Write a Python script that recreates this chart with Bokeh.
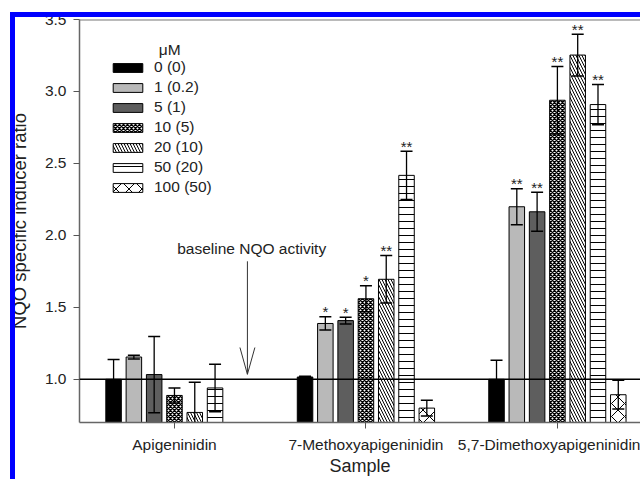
import numpy as np
from bokeh.plotting import figure
from bokeh.layouts import row
from bokeh.models import (ColumnDataSource, FixedTicker, Span, Arrow, Label,
                          Legend, LegendItem, NumeralTickFormatter, Range1d, Div)
from bokeh.core.properties import value
from bokeh.embed import file_html
from bokeh.resources import INLINE

# ---------------- data ----------------
categories = ["Apigeninidin", "7-Methoxyapigeninidin", "5,7-Dimethoxyapigeninidin"]
series_labels = ["0 (0)", "1 (0.2)", "5 (1)", "10 (5)", "20 (10)", "50 (20)", "100 (50)"]

ratio_0 = [1.00, 1.016, 1.00]
ratio_1 = [1.155, 1.388, 2.199]
ratio_5 = [1.033, 1.408, 2.164]
ratio_10 = [0.888, 1.560, 2.939]
ratio_20 = [0.770, 1.695, 3.253]
ratio_50 = [0.940, 2.417, 2.909]
ratio_100 = [float("nan"), 0.800, 0.893]

err_0 = [0.137, 0.005, 0.132]
err_1 = [0.013, 0.046, 0.125]
err_5 = [0.265, 0.023, 0.136]
err_10 = [0.052, 0.090, 0.235]
err_20 = [0.210, 0.165, 0.145]
err_50 = [0.165, 0.168, 0.140]
err_100 = [float("nan"), 0.055, 0.100]

stars_0 = ["", "", ""]
stars_1 = ["", "*", "**"]
stars_5 = ["", "*", "**"]
stars_10 = ["", "*", "**"]
stars_20 = ["", "**", "**"]
stars_50 = ["", "**", "**"]
stars_100 = ["", "", ""]

ratios = [ratio_0, ratio_1, ratio_5, ratio_10, ratio_20, ratio_50, ratio_100]
errors = [err_0, err_1, err_5, err_10, err_20, err_50, err_100]
stars = [stars_0, stars_1, stars_5, stars_10, stars_20, stars_50, stars_100]

y_ticks = [1.0, 1.5, 2.0, 2.5, 3.0, 3.5]

# ---------------- styles ----------------
FONT = "Liberation Sans"
styles = [
    dict(fill_color="black"),
    dict(fill_color="#b9b9b9"),
    dict(fill_color="#5e5e5e"),
    dict(fill_color="white", hatch_pattern="diagonal_cross", hatch_scale=4, hatch_weight=1.4),
    dict(fill_color="white", hatch_pattern="left_diagonal_line", hatch_scale=6, hatch_weight=1),
    dict(fill_color="white", hatch_pattern="horizontal_line", hatch_scale=7, hatch_weight=1),
    dict(fill_color="white", hatch_pattern="diagonal_cross", hatch_scale=13, hatch_weight=1),
]
bar_step = 0.106
bar_width = 0.081

p = figure(width=640, height=479, x_range=Range1d(-0.496, 2.434), y_range=Range1d(0.7, 3.5),
           output_backend="svg", toolbar_location=None,
           min_border_left=79, min_border_right=0, min_border_top=19, min_border_bottom=57)
p.grid.visible = False
p.outline_line_color = None

groups = np.arange(len(categories))
renderers = []
err_sources = []
for i, (vals, errs, st, sty) in enumerate(zip(ratios, errors, stars, styles)):
    vals = np.array(vals, dtype=float)
    errs = np.array(errs, dtype=float)
    src = ColumnDataSource(dict(x=groups + (i - 3) * bar_step, top=vals,
                                lo=vals - errs, hi=vals + errs, st=st))
    r = p.vbar(x="x", top="top", bottom=0, width=bar_width, source=src,
               line_color="black", line_width=1, hatch_color="black", **sty)
    renderers.append(r)
    err_sources.append(src)

for src in err_sources:
    p.segment(x0="x", y0="lo", x1="x", y1="hi", source=src, line_color="black", line_width=1.3)
    p.scatter(x="x", y="hi", marker="dash", size=12, source=src, line_color="black", line_width=1.5)
    p.scatter(x="x", y="lo", marker="dash", size=12, source=src, line_color="black", line_width=1.5)
    p.text(x="x", y="hi", text="st", source=src, text_align="center", text_baseline="alphabetic",
           y_offset=-5, text_font=value(FONT), text_font_size="15px", text_color="#222222")

# baseline and frame top
p.add_layout(Span(location=1.0, dimension="width", line_color="black", line_width=1.6))
p.add_layout(Span(location=3.5, dimension="width", line_color="#777777", line_width=2))

# annotation arrow (shaft + narrow open head) and its text
ARROW_X, ARROW_TIP, ARROW_TAIL = 0.381, 1.035, 1.82
HEAD_HALF_W, HEAD_LEN = 0.039, 0.186
arrow_kw = dict(line_width=1, line_color="#333333", end=None)
p.add_layout(Arrow(x_start=ARROW_X, y_start=ARROW_TAIL, x_end=ARROW_X, y_end=ARROW_TIP, **arrow_kw))
p.add_layout(Arrow(x_start=ARROW_X - HEAD_HALF_W, y_start=ARROW_TIP + HEAD_LEN,
                   x_end=ARROW_X, y_end=ARROW_TIP, **arrow_kw))
p.add_layout(Arrow(x_start=ARROW_X + HEAD_HALF_W, y_start=ARROW_TIP + HEAD_LEN,
                   x_end=ARROW_X, y_end=ARROW_TIP, **arrow_kw))
p.add_layout(Label(x=0.014, y=1.908, text="baseline NQO activity", text_baseline="alphabetic",
                   text_font=FONT, text_font_size="15.5px", text_color="#222222"))
p.add_layout(Label(x=-0.082, y=3.295, text="μM", text_baseline="alphabetic",
                   text_font=FONT, text_font_size="15.5px", text_color="#222222"))

# legend
legend = Legend(items=[LegendItem(label=lab, renderers=[r]) for lab, r in zip(series_labels, renderers)],
                location=(30, 225), margin=0, padding=0, spacing=0,
                border_line_color=None, background_fill_alpha=0,
                glyph_width=37, glyph_height=11, label_standoff=8, label_height=20,
                label_text_font=FONT, label_text_font_size="15.5px", label_text_color="#222222")
p.add_layout(legend)

# axes
for ax in (p.xaxis, p.yaxis):
    ax.axis_line_color = "#666666"
    ax.axis_line_width = 1.5
    ax.major_tick_line_color = "#555555"
    ax.major_tick_in = 0
    ax.major_tick_out = 6
    ax.minor_tick_line_color = None
    ax.major_label_text_font = FONT
    ax.major_label_text_font_size = "15.5px"
    ax.major_label_text_color = "#222222"
    ax.axis_label_text_font = FONT
    ax.axis_label_text_font_style = "normal"
    ax.axis_label_text_color = "#222222"

p.yaxis.ticker = FixedTicker(ticks=y_ticks)
p.yaxis.formatter = NumeralTickFormatter(format="0.0")
p.yaxis.major_label_standoff = 7
p.yaxis.axis_label = "NQO specific inducer ratio"
p.yaxis.axis_label_text_font_size = "18.5px"
p.yaxis.axis_label_standoff = 12

p.xaxis.ticker = FixedTicker(ticks=list(groups))
p.xaxis.major_label_overrides = {int(g): c for g, c in zip(groups, categories)}
p.xaxis.major_label_standoff = 7
p.xaxis.axis_label = "Sample"
p.xaxis.axis_label_text_font_size = "18px"
p.xaxis.axis_label_standoff = 0

# blue highlight frame (top and left), laid over the figure
bar_css = {"position": "fixed", "background-color": "blue", "z-index": "10"}
top_bar = Div(text="", width=630, height=5, margin=0,
              styles=dict(bar_css, left="10px", top="12px"))
left_bar = Div(text="", width=5, height=467, margin=0,
               styles=dict(bar_css, left="10px", top="12px"))
layout = row(p, top_bar, left_bar)

open("out.html", "w").write(file_html(layout, INLINE))
